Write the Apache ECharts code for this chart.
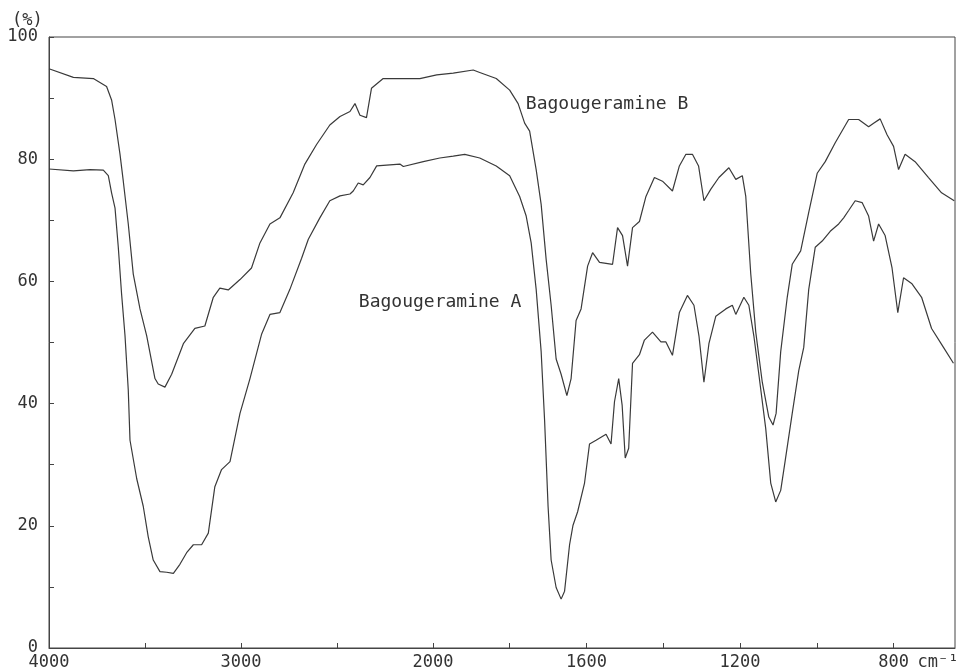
<!DOCTYPE html>
<html>
<head>
<meta charset="utf-8">
<script src="https://cdn.jsdelivr.net/npm/echarts@6/dist/echarts.min.js"></script>
<style>
html,body{margin:0;padding:0;background:#fff;}
#chart{width:960px;height:672px;}
</style>
</head>
<body>
<div id="chart"></div>
<script>
// Wavenumbers (cm-1) and transmittance (%)
const waveA = [
  4000, 3873, 3786, 3717, 3691, 3674, 3656, 3639, 3622, 3604,
  3587, 3578, 3543, 3509, 3483, 3457, 3422, 3387, 3352, 3318,
  3283, 3248, 3205, 3170, 3136, 3101, 3057, 3005, 2953, 2892,
  2849, 2797, 2745, 2684, 2649, 2589, 2537, 2484, 2432, 2415,
  2389, 2363, 2328, 2293, 2172, 2154, 2050, 1982, 1947, 1917,
  1878, 1835, 1800, 1774, 1757, 1744, 1731, 1718, 1709, 1700,
  1692, 1679, 1666, 1657, 1644, 1635, 1623, 1605, 1592, 1575,
  1549, 1536, 1527, 1516, 1507, 1499, 1490, 1480, 1462, 1449,
  1428, 1406, 1393, 1376, 1358, 1337, 1320, 1307, 1294, 1281,
  1263, 1237, 1220, 1211, 1190, 1177, 1164, 1151, 1133, 1120,
  1107, 1094, 1082, 1064, 1047, 1034, 1021, 1004, 986, 965,
  943, 930, 917, 900, 882, 865, 852, 839, 822, 804,
  789, 774, 752, 727, 701, 670, 644
];
const transA = [
  78.4, 78.1, 78.3, 78.2, 77.3, 74.5, 72.0, 65.6, 58.0, 51.1,
  42.2, 34.0, 27.7, 23.2, 18.2, 14.4, 12.5, 12.4, 12.2, 13.7,
  15.6, 16.9, 16.9, 18.8, 26.4, 29.2, 30.5, 38.4, 44.1, 51.4,
  54.6, 54.9, 58.7, 63.8, 66.9, 70.4, 73.2, 74.0, 74.3, 74.8,
  76.1, 75.8, 77.0, 78.9, 79.2, 78.8, 79.6, 80.2, 80.5, 80.8,
  80.2, 78.9, 77.3, 73.9, 70.7, 66.3, 58.7, 48.5, 37.2, 23.2,
  14.4, 9.9, 8.0, 9.3, 16.9, 20.1, 22.3, 27.0, 33.4, 34.0,
  35.0, 33.4, 40.3, 44.1, 39.7, 31.1, 32.7, 46.6, 48.0, 50.4,
  51.7, 50.1, 50.1, 47.9, 54.9, 57.7, 56.1, 51.1, 43.5, 49.8,
  54.3, 55.5, 56.1, 54.6, 57.4, 56.1, 51.1, 44.8, 35.9, 27.0,
  23.9, 25.8, 30.8, 38.4, 45.4, 49.2, 58.7, 65.6, 66.6, 68.2,
  69.4, 70.4, 71.6, 73.2, 72.9, 70.7, 66.6, 69.4, 67.5, 62.2,
  54.9, 60.6, 59.6, 57.4, 52.3, 49.2, 46.6
];
const waveB = [
  4000, 3873, 3769, 3700, 3674, 3656, 3630, 3613, 3587, 3561,
  3526, 3491, 3448, 3431, 3396, 3361, 3300, 3240, 3188, 3144,
  3110, 3066, 3005, 2945, 2901, 2849, 2797, 2728, 2667, 2606,
  2537, 2484, 2432, 2406, 2380, 2346, 2320, 2259, 2137, 2068,
  1990, 1947, 1895, 1878, 1835, 1800, 1778, 1761, 1748, 1731,
  1718, 1705, 1692, 1679, 1666, 1651, 1640, 1627, 1614, 1597,
  1584, 1566, 1532, 1519, 1506, 1493, 1480, 1462, 1445, 1423,
  1402, 1376, 1358, 1341, 1324, 1308, 1294, 1276, 1255, 1229,
  1211, 1194, 1185, 1172, 1159, 1142, 1125, 1114, 1106, 1094,
  1077, 1064, 1042, 1021, 999, 978, 952, 917, 891, 865,
  852, 835, 817, 800, 787, 770, 744, 709, 675, 642
];
const transB = [
  94.8, 93.4, 93.2, 91.9, 89.7, 86.5, 80.8, 76.4, 69.4, 61.2,
  55.5, 51.1, 44.1, 43.2, 42.7, 44.8, 49.8, 52.3, 52.7, 57.4,
  58.9, 58.6, 60.3, 62.2, 66.3, 69.4, 70.4, 74.5, 79.2, 82.4,
  85.6, 87.0, 87.8, 89.1, 87.2, 86.8, 91.6, 93.2, 93.2, 93.2,
  93.8, 94.1, 94.6, 94.2, 93.2, 91.3, 89.1, 85.9, 84.6, 78.3,
  72.6, 63.6, 56.1, 47.3, 44.8, 41.3, 44.1, 53.6, 55.5, 62.5,
  64.7, 63.1, 62.8, 68.8, 67.5, 62.5, 68.8, 69.8, 73.9, 77.0,
  76.4, 74.8, 78.9, 80.8, 80.8, 78.9, 73.2, 75.1, 77.0, 78.6,
  76.7, 77.3, 73.9, 61.2, 51.7, 43.5, 37.8, 36.5, 38.4, 48.5,
  57.4, 62.8, 65.0, 71.3, 77.7, 79.6, 82.7, 86.5, 86.5, 85.3,
  85.9, 86.6, 84.0, 82.1, 78.3, 80.8, 79.6, 77.0, 74.5, 73.2
];
const seriesNames = ['Bagougeramine A', 'Bagougeramine B'];
const nameWave = [2386, 1758];
const nameT = [56.5, 88.9];
const tickWaves = [4000, 3500, 3000, 2500, 2000, 1800, 1600, 1400, 1200, 1000, 800];
const labelWaves = [4000, 3000, 2000, 1600, 1200, 800];
const waveEnd = 640;

// IR chart convention: the scale doubles below 2000 cm-1
function toAxis(w) { return w >= 2000 ? 4000 - w : 2000 + 2 * (2000 - w); }
function fromAxis(u) { return u <= 2000 ? 4000 - u : 2000 - (u - 2000) / 2; }

const FONT = '"DejaVu Sans Mono", monospace';
const INK = '#3a3a3a';

const chart = echarts.init(document.getElementById('chart'));
function pairs(w, t) { return w.map((x, i) => [toAxis(x), t[i]]); }
chart.setOption({
  animation: false,
  backgroundColor: '#fff',
  grid: { left: 49, right: 5, top: 37, bottom: 24, show: true, borderColor: '#444', borderWidth: 1, backgroundColor: 'transparent' },
  xAxis: {
    type: 'value', min: 0, max: toAxis(waveEnd),
    axisLine: { show: true, lineStyle: { color: '#444', width: 1 } },
    splitLine: { show: false },
    axisTick: { show: true, inside: true, length: 5, lineStyle: { color: '#444' },
      customValues: tickWaves.map(toAxis) },
    axisLabel: { show: true, margin: 6, fontFamily: FONT, fontSize: 17, color: '#333',
      customValues: labelWaves.map(toAxis),
      formatter: v => String(Math.round(fromAxis(v))) }
  },
  yAxis: {
    type: 'value', min: 0, max: 100, interval: 10,
    axisLine: { show: true, lineStyle: { color: '#444', width: 1 } },
    splitLine: { show: false },
    axisTick: { show: true, inside: true, length: 5, lineStyle: { color: '#444' } },
    axisLabel: { margin: 11, fontFamily: FONT, fontSize: 17, color: '#333',
      formatter: v => (v % 20 === 0 ? String(v) : '') }
  },
  series: [
    { name: seriesNames[0], type: 'line', data: pairs(waveA, transA), showSymbol: false, smooth: false,
      lineStyle: { color: INK, width: 1.2 } },
    { name: seriesNames[1], type: 'line', data: pairs(waveB, transB), showSymbol: false, smooth: false,
      lineStyle: { color: INK, width: 1.2 } }
  ]
});
const toPx = (u, t) => chart.convertToPixel({ xAxisIndex: 0, yAxisIndex: 0 }, [u, t]);
const p800 = toPx(toAxis(800), 0);
const pTop = toPx(0, 100);
const graphics = [
  { type: 'text', left: p800[0] + 24, top: p800[1] + 6,
    style: { text: 'cm⁻¹', font: '17px ' + FONT, fill: '#333' } },
  { type: 'text', left: 12, top: pTop[1] - 25,
    style: { text: '(%)', font: '17px ' + FONT, fill: '#333' } }
];
seriesNames.forEach((n, i) => {
  const p = toPx(toAxis(nameWave[i]), nameT[i]);
  graphics.push({ type: 'text', x: p[0], y: p[1],
    style: { text: n, font: '18px ' + FONT, fill: '#333', verticalAlign: 'middle', align: 'left' } });
});
chart.setOption({ graphic: graphics });
</script>
</body>
</html>
